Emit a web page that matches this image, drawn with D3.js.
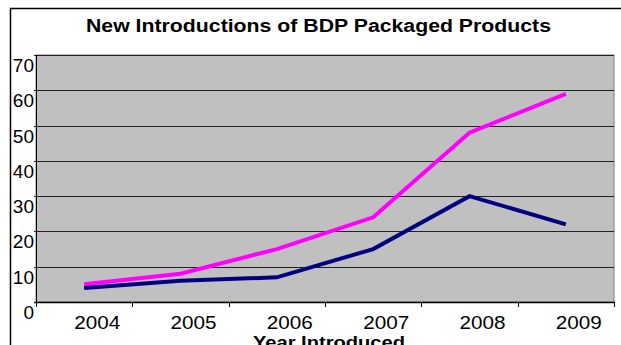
<!DOCTYPE html>
<html lang="en">
<head>
<meta charset="UTF-8">
<title>New Introductions of BDP Packaged Products</title>
<script src="https://cdn.jsdelivr.net/npm/d3@7"></script>
<style>
  body { margin: 0; background: #fff; }
  text { font-family: Arial, "Liberation Sans", sans-serif; fill: #000; }
</style>
</head>
<body>
<script>
var years = ["2004", "2005", "2006", "2007", "2008", "2009"];
var pinkSeries = [5, 8, 15, 24, 48, 59];
var navySeries = [4, 6, 7, 15, 30, 22];
var yTicks = [0, 10, 20, 30, 40, 50, 60, 70];

var W = 621, H = 345;
var margin = {top: 55, left: 36, right: 7, bottom: 43};
var width = W - margin.left - margin.right,
    height = H - margin.top - margin.bottom;

var svg = d3.select("body").append("svg")
  .attr("width", W).attr("height", H);

// outer frame, runs off the right and bottom like the original
svg.append("rect")
  .attr("x", 10.5).attr("y", 8.5)
  .attr("width", 640).attr("height", 400)
  .attr("fill", "none").attr("stroke", "#000").attr("stroke-width", 1.5);

svg.append("text")
  .attr("x", 318.5).attr("y", 32)
  .attr("text-anchor", "middle")
  .attr("textLength", 465).attr("lengthAdjust", "spacingAndGlyphs")
  .style("font-size", "18px").style("font-weight", "bold")
  .text("New Introductions of BDP Packaged Products");

var g = svg.append("g").attr("transform", "translate(" + margin.left + "," + margin.top + ")");

var x = d3.scaleBand().domain(years).range([0, width]);
var y = d3.scaleLinear().domain([0, 70]).range([height, 0]);

g.append("rect")
  .attr("width", width).attr("height", height)
  .attr("fill", "#c0c0c0").attr("stroke", "#808080");

g.selectAll(".grid").data(yTicks.slice(1)).enter().append("line")
  .attr("x1", -2).attr("x2", width)
  .attr("y1", function(d) { return Math.round(y(d)) + 0.5; })
  .attr("y2", function(d) { return Math.round(y(d)) + 0.5; })
  .attr("stroke", "#222").attr("stroke-width", 1);

// y axis
g.append("line").attr("x1", 0.5).attr("x2", 0.5).attr("y1", 0).attr("y2", height)
  .attr("stroke", "#000");
g.selectAll(".ylab").data(yTicks).enter().append("text")
  .attr("x", -2).attr("y", function(d) { return y(d) + 17; })
  .attr("text-anchor", "end")
  .style("font-size", "19px")
  .text(function(d) { return d; });

// x axis
g.append("line").attr("x1", -2).attr("x2", width).attr("y1", height + 0.5).attr("y2", height + 0.5)
  .attr("stroke", "#000").attr("stroke-width", 1.5);
var bounds = years.map(function(d) { return x(d); }).concat([width]);
g.selectAll(".xtick").data(bounds).enter().append("line")
  .attr("x1", function(d) { return Math.round(d) + 0.5; })
  .attr("x2", function(d) { return Math.round(d) + 0.5; })
  .attr("y1", height).attr("y2", height + 5)
  .attr("stroke", "#000");
// labels sit a little right of the band centres in the original
g.selectAll(".xlab").data(years).enter().append("text")
  .attr("x", function(d) { return x(d) + x.bandwidth() / 2 + 13; })
  .attr("y", height + 26.5)
  .attr("text-anchor", "middle")
  .attr("textLength", 46).attr("lengthAdjust", "spacingAndGlyphs")
  .style("font-size", "19px")
  .text(function(d) { return d; });

g.append("text")
  .attr("x", width / 2 + 4).attr("y", height + 46)
  .attr("text-anchor", "middle")
  .attr("textLength", 152).attr("lengthAdjust", "spacingAndGlyphs")
  .style("font-size", "16px").style("font-weight", "bold")
  .text("Year Introduced");

var line = d3.line()
  .x(function(d, i) { return x(years[i]) + x.bandwidth() / 2; })
  .y(function(d) { return y(d); });

g.append("path").datum(pinkSeries).attr("d", line)
  .attr("fill", "none").attr("stroke", "#ff00ff").attr("stroke-width", 4);
g.append("path").datum(navySeries).attr("d", line)
  .attr("fill", "none").attr("stroke", "#000080").attr("stroke-width", 4);
</script>
</body>
</html>
